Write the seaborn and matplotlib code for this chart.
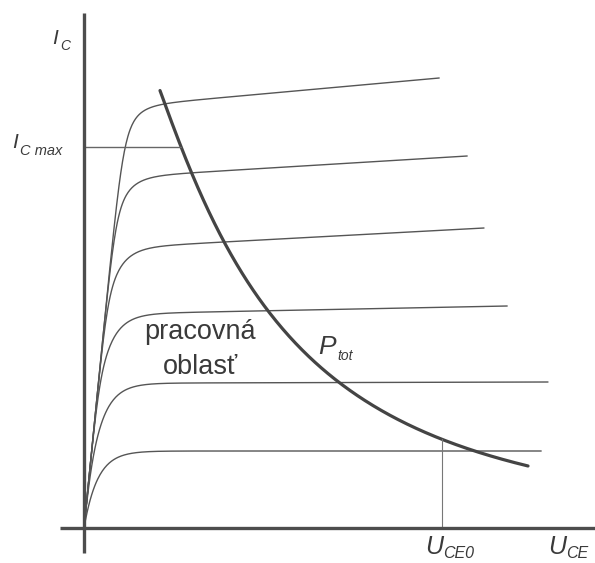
import numpy as np
import pandas as pd
import matplotlib
matplotlib.use("Agg")
import matplotlib.pyplot as plt
import seaborn as sns

# Output characteristics I_C(U_CE): flat-region current near the knee
# (at U = 2) and at the right-hand end of every trace.
u_knee = 2.0
i_knee = [1.925, 3.625, 5.38, 7.07, 8.84, 10.63]
i_end = [1.925, 3.65, 5.55, 7.50, 9.30, 11.25]
u_end = [11.43, 11.60, 10.58, 10.00, 9.58, 8.88]

# Saturation line slope and rise constant of the traces
sat_slope = 10.1
rise_tau = 0.34

# Maximum power dissipation curve P_tot, points along the curve
ptot_u = [1.9, 2.05, 2.325, 2.65, 3.475, 4.775, 6.45, 8.9, 9.65, 11.1]
ptot_i = [11.175, 10.65, 9.525, 8.825, 7.025, 5.45, 3.625, 2.2, 1.925, 1.575]

ic_max = 9.525
u_ce0 = 8.95

W, H = 595, 563
sns.set_theme(style="white")
plt.rcParams["font.family"] = ["Liberation Sans", "DejaVu Sans"]

fig = plt.figure(figsize=(W / 100, H / 100), dpi=100)
ax = fig.add_axes([0, 0, 1, 1])
ax.set_xlim(-2.1, 12.775)
ax.set_ylim(-0.875, 13.2)
ax.set_axis_off()

thin = "#555555"

# characteristic curves: soft minimum of saturation line and saturating rise
for ik, ie, ue in zip(i_knee, i_end, u_end):
    u = np.linspace(0, ue, 600)
    level = ik + (ie - ik) * (u - u_knee) / (ue - u_knee)
    rise = level * (1 - np.exp(-u / rise_tau))
    sat = sat_slope * u
    with np.errstate(divide="ignore", invalid="ignore"):
        cur = (np.power(rise, -10.0) + np.power(sat, -10.0)) ** (-0.1)
    cur = np.nan_to_num(cur, nan=0.0)
    df = pd.DataFrame({"U": u, "I": cur})
    sns.lineplot(data=df, x="U", y="I", ax=ax, color=thin, lw=1.0,
                 sort=False, estimator=None)

# P_tot hyperbola (smooth fit in log-log space)
coef = np.polyfit(np.log(ptot_u), np.log(ptot_i), 2)
pu = np.linspace(ptot_u[0], ptot_u[-1], 400)
pi = np.exp(np.polyval(coef, np.log(pu)))
sns.lineplot(x=pu, y=pi, ax=ax, color="#444444", lw=2.3, sort=False,
             estimator=None)

# I_C max limit up to the hyperbola
u_icmax = np.interp(ic_max, pi[::-1], pu[::-1])
ax.plot([0, u_icmax], [ic_max, ic_max], color="#666666", lw=1.0)

# U_CE0 limit up to the hyperbola
i_uce0 = np.interp(u_ce0, pu, pi)
ax.plot([u_ce0, u_ce0], [0, i_uce0], color="#777777", lw=0.8)

# axes
axis_col = "#4d4d4d"
ax.plot([0, 0], [-0.625, 12.875], color=axis_col, lw=2.4,
        solid_capstyle="butt")
ax.plot([-0.6, 13.0], [0, 0], color=axis_col, lw=2.4, solid_capstyle="butt")


def put(x, y, s, size, italic=True, ha="left"):
    fig.text(x / W, 1 - y / H, s, fontsize=size, ha=ha, va="baseline",
             color="#3a3a3a", fontstyle="italic" if italic else "normal",
             family=["Liberation Sans", "DejaVu Sans"])


put(52, 44, "I", 15)
put(60, 50, "C", 10)
put(12, 148, "I", 15)
put(20, 155, "C max", 10.5)
put(318, 354, "P", 19)
put(337, 360, "tot", 10)
put(425, 554, "U", 18)
put(443, 558, "CE0", 11.5)
put(548, 554, "U", 18)
put(566, 558, "CE", 11.5)
put(200, 339, "pracovná", 19.5, italic=False, ha="center")
put(200, 374, "oblasť", 19.5, italic=False, ha="center")

fig.savefig("out.png", dpi=100)
